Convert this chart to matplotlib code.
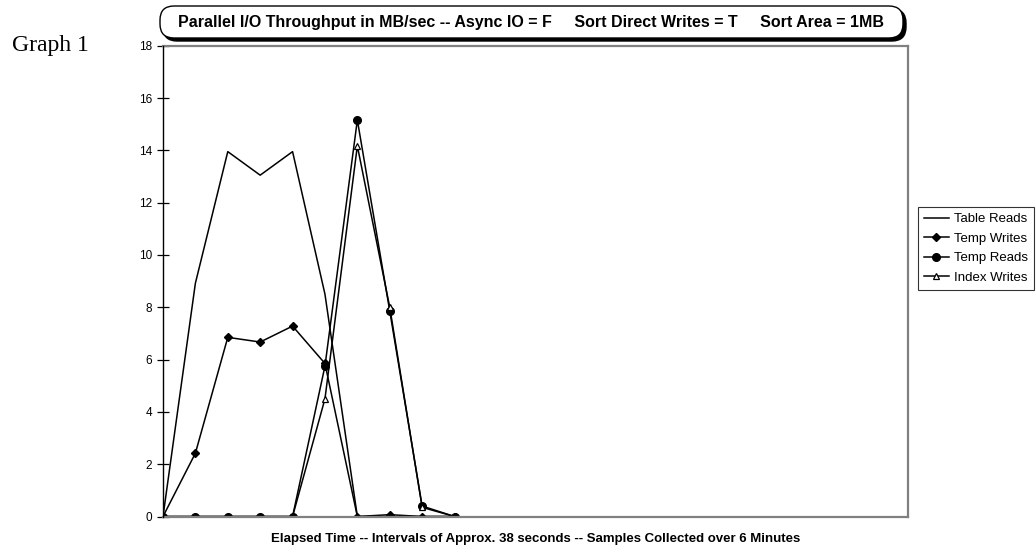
import matplotlib.pyplot as plt
from matplotlib.patches import FancyBboxPatch

# muestras (intervalos de ~38 s)
muestras = list(range(10))
table_reads = [0, 8.92, 13.95, 13.05, 13.95, 8.5, 0, 0, 0, 0]
temp_writes = [0, 2.42, 6.85, 6.67, 7.28, 5.85, 0, 0.07, 0, 0]
temp_reads = [0, 0, 0, 0, 0, 5.75, 15.16, 7.86, 0.4, 0]
index_writes = [0, 0, 0, 0, 0, 4.5, 14.17, 8.0, 0.35, 0]

titulo = ('Parallel I/O Throughput in MB/sec -- Async IO = F     '
          'Sort Direct Writes = T     Sort Area = 1MB')
etiqueta_x = 'Elapsed Time -- Intervals of Approx. 38 seconds -- Samples Collected over 6 Minutes'

plt.rcParams['font.family'] = ['Liberation Sans', 'DejaVu Sans']

W, H = 1036, 553
fig = plt.figure(figsize=(W / 100, H / 100), dpi=100)
ax = fig.add_axes([163 / W, (H - 516.5) / H, (908 - 163) / W, (516.5 - 45.7) / H])

ax.plot(muestras, table_reads, color='black', lw=1.1, label='Table Reads')
ax.plot(muestras, temp_writes, color='black', lw=1.1, marker='D', ms=4.5, label='Temp Writes')
ax.plot(muestras, temp_reads, color='black', lw=1.1, marker='o', ms=5.5, label='Temp Reads')
ax.plot(muestras, index_writes, color='black', lw=1.1, marker='^', ms=5,
        markerfacecolor='white', markeredgewidth=0.9, label='Index Writes')

ax.set_xlim(0, 23)
ax.set_ylim(0, 18)
ax.set_yticks(range(0, 19, 2))
ax.set_xticks([])
ax.tick_params(axis='y', direction='inout', length=8, width=0.9, labelsize=8.5, pad=4)

for lado in ['top', 'right', 'bottom']:
    ax.spines[lado].set_color('#808080')
    ax.spines[lado].set_linewidth(1.6)
ax.spines['left'].set_color('black')
ax.spines['left'].set_linewidth(1.0)
ax.spines['left'].set_zorder(5)

ax.set_xlabel(etiqueta_x, fontsize=9.5, fontweight='bold', labelpad=12)

# caja del titulo con sombra
sombra = FancyBboxPatch((163, 553 - 41), 743, 32, boxstyle='round,pad=0,rounding_size=14',
                        transform=None, facecolor='black', edgecolor='black', lw=1)
caja = FancyBboxPatch((160, 553 - 38), 743, 32, boxstyle='round,pad=0,rounding_size=14',
                      transform=None, facecolor='white', edgecolor='black', lw=1)
fig.patches.extend([sombra, caja])
fig.text(531 / W, 1 - 22 / H, titulo, ha='center', va='center',
         fontsize=11.5, fontweight='bold')

fig.text(12 / W, 1 - 46 / H, 'Graph 1', ha='left', va='center', fontsize=17,
         family=['Liberation Serif', 'DejaVu Serif'])

leg = fig.legend(loc='upper left', bbox_to_anchor=(918 / W, 1 - 207 / H),
                 fontsize=9.5, frameon=True, fancybox=False, edgecolor='black',
                 handlelength=1.9, handletextpad=0.35, borderpad=0.45,
                 labelspacing=0.55, borderaxespad=0)
leg.get_frame().set_linewidth(0.8)

fig.savefig('out.png', dpi=100)
